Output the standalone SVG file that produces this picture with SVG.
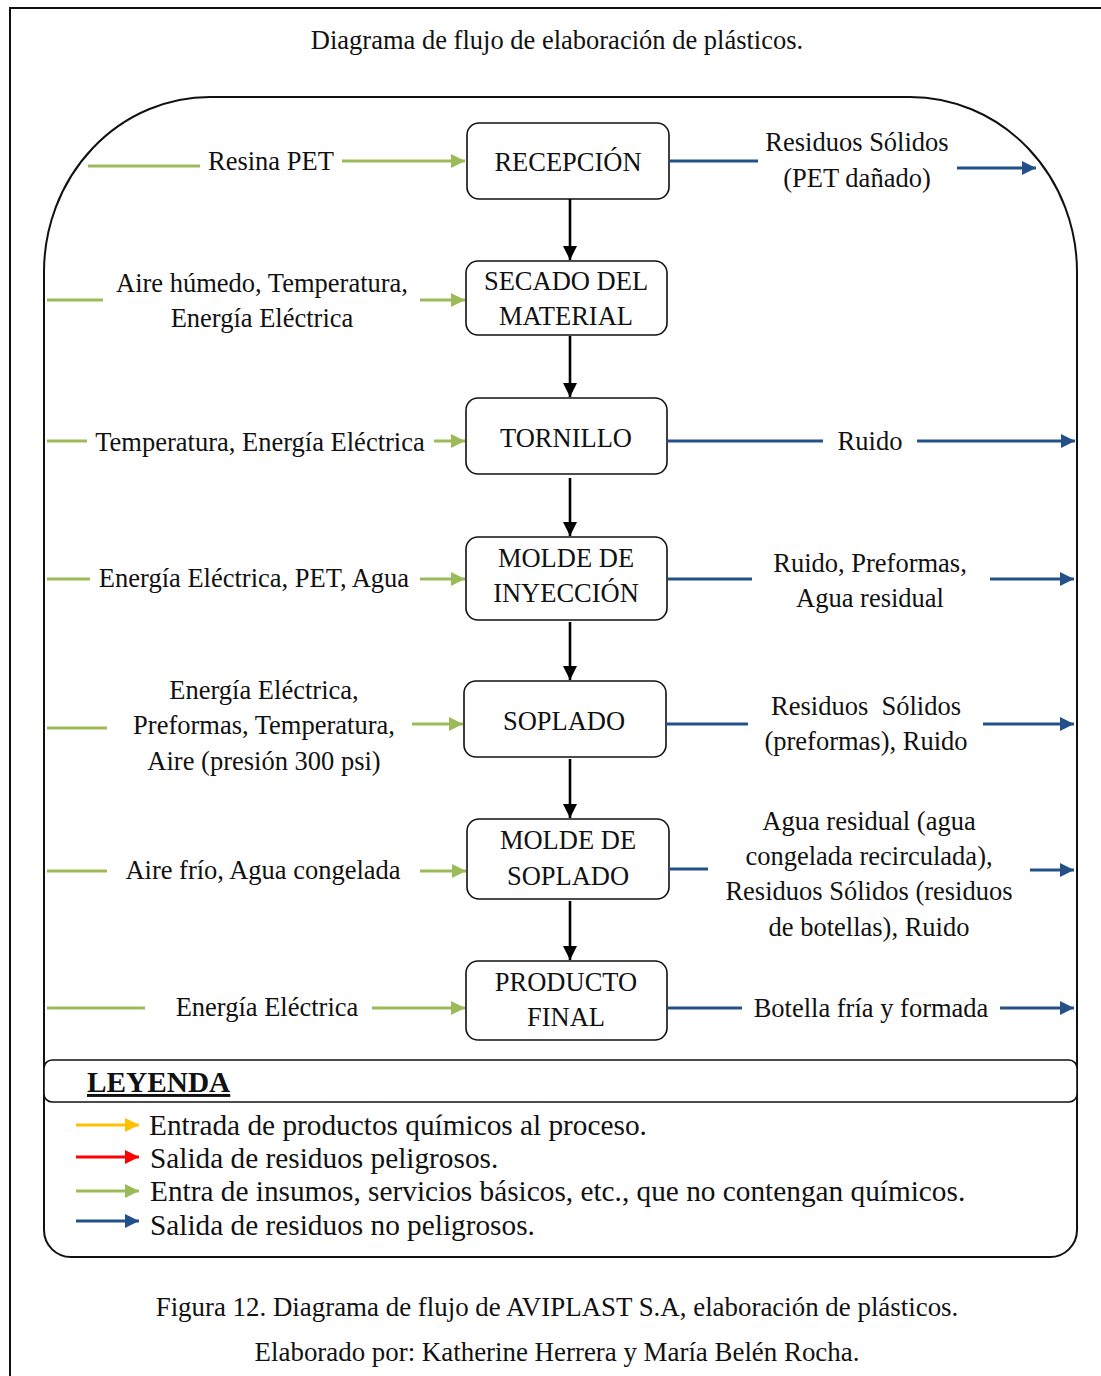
<svg xmlns="http://www.w3.org/2000/svg" width="1101" height="1376" viewBox="0 0 1101 1376">
  <style>
    text { font-family: "Liberation Serif", "Times New Roman", serif; font-size: 26.5px; fill: #111; }
    .c { text-anchor: middle; }
    .lg { font-size: 29.3px; }
    .cap { font-size: 26.9px; }
    .node rect { fill: #fff; stroke: #111; stroke-width: 1.6; }
    .flow { stroke: #000; stroke-width: 2.6; fill: none; }
    .in { stroke: #9BBB59; stroke-width: 3; fill: none; }
    .out { stroke: #24508A; stroke-width: 3; fill: none; }
    .frame { fill: none; stroke: #111; stroke-width: 2; }
  </style>
  <defs>
    <marker id="ah-black" markerUnits="userSpaceOnUse" markerWidth="16" markerHeight="16" refX="14" refY="7" orient="auto">
      <path d="M0,0 L14,7 L0,14 Z" fill="#000"/>
    </marker>
    <marker id="ah-green" markerUnits="userSpaceOnUse" markerWidth="16" markerHeight="16" refX="14" refY="7" orient="auto">
      <path d="M0,0 L14,7 L0,14 Z" fill="#9BBB59"/>
    </marker>
    <marker id="ah-blue" markerUnits="userSpaceOnUse" markerWidth="16" markerHeight="16" refX="14" refY="7" orient="auto">
      <path d="M0,0 L14,7 L0,14 Z" fill="#24508A"/>
    </marker>
    <marker id="ah-yellow" markerUnits="userSpaceOnUse" markerWidth="16" markerHeight="16" refX="14" refY="7" orient="auto">
      <path d="M0,0 L14,7 L0,14 Z" fill="#FFC000"/>
    </marker>
    <marker id="ah-red" markerUnits="userSpaceOnUse" markerWidth="16" markerHeight="16" refX="14" refY="7" orient="auto">
      <path d="M0,0 L14,7 L0,14 Z" fill="#FF0000"/>
    </marker>
  </defs>

  <rect width="1101" height="1376" fill="#fff"/>

  <!-- page frame -->
  <rect x="10" y="8" width="1100" height="1380" class="frame"/>

  <text class="c" x="557" y="49">Diagrama de flujo de elaboración de plásticos.</text>

  <!-- process enclosure -->
  <path class="frame" d="M44,272 A166,175 0 0 1 210,97 L910,97 A167,175 0 0 1 1077,272 L1077,1230 A27,27 0 0 1 1050,1257 L71,1257 A27,27 0 0 1 44,1230 Z"/>

  <!-- process nodes -->
  <g id="recepcion" class="node">
    <rect x="467" y="123" width="202" height="76" rx="12"/>
    <text class="c" x="568" y="171">RECEPCIÓN</text>
  </g>
  <g id="secado" class="node">
    <rect x="466" y="261" width="201" height="74" rx="12"/>
    <text class="c" x="566" y="290">SECADO DEL</text>
    <text class="c" x="566" y="325">MATERIAL</text>
  </g>
  <g id="tornillo" class="node">
    <rect x="466" y="398" width="201" height="76" rx="12"/>
    <text class="c" x="566" y="447">TORNILLO</text>
  </g>
  <g id="molde-inyeccion" class="node">
    <rect x="466" y="537" width="201" height="83" rx="12"/>
    <text class="c" x="566" y="567">MOLDE DE</text>
    <text class="c" x="566" y="602">INYECCIÓN</text>
  </g>
  <g id="soplado" class="node">
    <rect x="464" y="681" width="202" height="76" rx="12"/>
    <text class="c" x="564" y="730">SOPLADO</text>
  </g>
  <g id="molde-soplado" class="node">
    <rect x="467" y="819" width="202" height="80" rx="12"/>
    <text class="c" x="568" y="849">MOLDE DE</text>
    <text class="c" x="568" y="885">SOPLADO</text>
  </g>
  <g id="producto-final" class="node">
    <rect x="466" y="961" width="201" height="79" rx="12"/>
    <text class="c" x="566" y="991">PRODUCTO</text>
    <text class="c" x="566" y="1026">FINAL</text>
  </g>

  <!-- connectors -->
  <g id="connectors">
    <!-- main flow -->
    <line class="flow" x1="570" y1="199" x2="570" y2="260" marker-end="url(#ah-black)"/>
    <line class="flow" x1="570" y1="336" x2="570" y2="397" marker-end="url(#ah-black)"/>
    <line class="flow" x1="570" y1="478" x2="570" y2="536" marker-end="url(#ah-black)"/>
    <line class="flow" x1="570" y1="622" x2="570" y2="680" marker-end="url(#ah-black)"/>
    <line class="flow" x1="570" y1="759" x2="570" y2="818" marker-end="url(#ah-black)"/>
    <line class="flow" x1="570" y1="901" x2="570" y2="960" marker-end="url(#ah-black)"/>

    <!-- inputs -->
    <line class="in" x1="88" y1="166" x2="200" y2="166"/>
    <line class="in" x1="342" y1="161" x2="465" y2="161" marker-end="url(#ah-green)"/>
    <line class="in" x1="47" y1="300" x2="103" y2="300"/>
    <line class="in" x1="420" y1="300" x2="465" y2="300" marker-end="url(#ah-green)"/>
    <line class="in" x1="47" y1="441" x2="87" y2="441"/>
    <line class="in" x1="434" y1="441" x2="465" y2="441" marker-end="url(#ah-green)"/>
    <line class="in" x1="47" y1="579" x2="90" y2="579"/>
    <line class="in" x1="420" y1="579" x2="465" y2="579" marker-end="url(#ah-green)"/>
    <line class="in" x1="47" y1="728" x2="107" y2="728"/>
    <line class="in" x1="412" y1="724" x2="463" y2="724" marker-end="url(#ah-green)"/>
    <line class="in" x1="47" y1="871" x2="107" y2="871"/>
    <line class="in" x1="420" y1="871" x2="466" y2="871" marker-end="url(#ah-green)"/>
    <line class="in" x1="47" y1="1008" x2="145" y2="1008"/>
    <line class="in" x1="372" y1="1008" x2="465" y2="1008" marker-end="url(#ah-green)"/>

    <!-- outputs -->
    <line class="out" x1="669" y1="161" x2="758" y2="161"/>
    <line class="out" x1="957" y1="168" x2="1036" y2="168" marker-end="url(#ah-blue)"/>
    <line class="out" x1="667" y1="441" x2="823" y2="441"/>
    <line class="out" x1="917" y1="441" x2="1075" y2="441" marker-end="url(#ah-blue)"/>
    <line class="out" x1="668" y1="579" x2="752" y2="579"/>
    <line class="out" x1="990" y1="579" x2="1074" y2="579" marker-end="url(#ah-blue)"/>
    <line class="out" x1="666" y1="724" x2="748" y2="724"/>
    <line class="out" x1="983" y1="724" x2="1074" y2="724" marker-end="url(#ah-blue)"/>
    <line class="out" x1="669" y1="869" x2="708" y2="869"/>
    <line class="out" x1="1030" y1="870" x2="1074" y2="870" marker-end="url(#ah-blue)"/>
    <line class="out" x1="668" y1="1008" x2="742" y2="1008"/>
    <line class="out" x1="1000" y1="1008" x2="1074" y2="1008" marker-end="url(#ah-blue)"/>
  </g>

  <!-- input labels -->
  <text x="208" y="170">Resina PET</text>
  <text class="c" x="262" y="292">Aire húmedo, Temperatura,</text>
  <text class="c" x="262" y="327">Energía Eléctrica</text>
  <text class="c" x="260" y="451">Temperatura, Energía Eléctrica</text>
  <text class="c" x="254" y="587">Energía Eléctrica, PET, Agua</text>
  <text class="c" x="264" y="699">Energía Eléctrica,</text>
  <text class="c" x="264" y="734">Preformas, Temperatura,</text>
  <text class="c" x="264" y="770">Aire (presión 300 psi)</text>
  <text class="c" x="263" y="879">Aire frío, Agua congelada</text>
  <text class="c" x="267" y="1016">Energía Eléctrica</text>

  <!-- output labels -->
  <text class="c" x="857" y="151">Residuos Sólidos</text>
  <text class="c" x="857" y="187">(PET dañado)</text>
  <text class="c" x="870" y="450">Ruido</text>
  <text class="c" x="870" y="572">Ruido, Preformas,</text>
  <text class="c" x="870" y="607">Agua residual</text>
  <text class="c" x="866" y="715" xml:space="preserve">Residuos  Sólidos</text>
  <text class="c" x="866" y="750">(preformas), Ruido</text>
  <text class="c" x="869" y="830">Agua residual (agua</text>
  <text class="c" x="869" y="865">congelada recirculada),</text>
  <text class="c" x="869" y="900">Residuos Sólidos (residuos</text>
  <text class="c" x="869" y="936">de botellas), Ruido</text>
  <text class="c" x="871" y="1017">Botella fría y formada</text>

  <!-- legend -->
  <g id="legend">
    <rect x="44" y="1060" width="1033" height="42" rx="8" fill="#fff" stroke="#111" stroke-width="1.6"/>
    <text class="lg" x="87" y="1092" font-weight="bold" text-decoration="underline">LEYENDA</text>
    <line x1="76" y1="1125" x2="139" y2="1125" stroke="#FFC000" stroke-width="3" marker-end="url(#ah-yellow)"/>
    <line x1="76" y1="1157" x2="139" y2="1157" stroke="#FF0000" stroke-width="3" marker-end="url(#ah-red)"/>
    <line x1="76" y1="1191" x2="139" y2="1191" class="in" marker-end="url(#ah-green)"/>
    <line x1="76" y1="1221" x2="139" y2="1221" class="out" marker-end="url(#ah-blue)"/>
    <text class="lg" x="149" y="1135">Entrada de productos químicos al proceso.</text>
    <text class="lg" x="150" y="1168">Salida de residuos peligrosos.</text>
    <text class="lg" x="150" y="1201">Entra de insumos, servicios básicos, etc., que no contengan químicos.</text>
    <text class="lg" x="150" y="1235">Salida de residuos no peligrosos.</text>
  </g>

  <text class="c cap" x="557" y="1316">Figura 12. Diagrama de flujo de AVIPLAST S.A, elaboración de plásticos.</text>
  <text class="c cap" x="557" y="1361">Elaborado por: Katherine Herrera y María Belén Rocha.</text>
</svg>
